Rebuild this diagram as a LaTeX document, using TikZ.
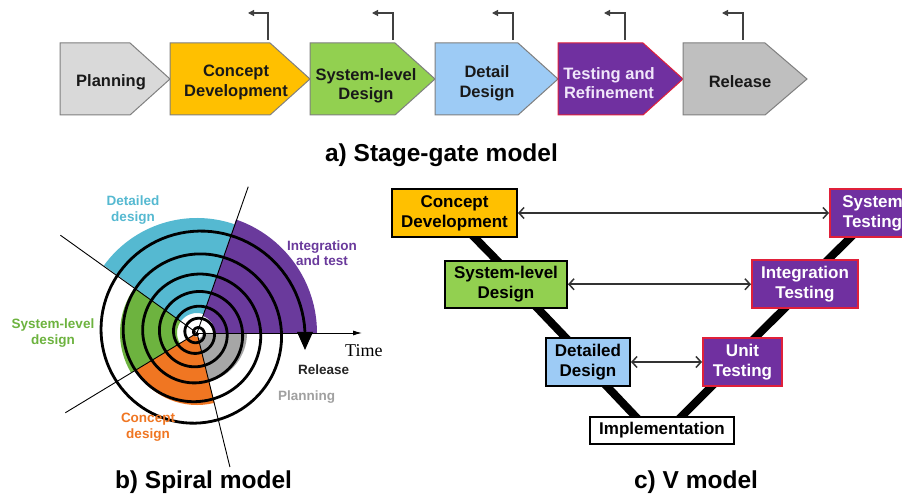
\documentclass[tikz,border=0pt]{standalone}
\usepackage{fontspec}
\setmainfont{Liberation Sans}
\newfontfamily\serifface{Liberation Serif}
\usetikzlibrary{arrows.meta,backgrounds,calc}
\definecolor{sgplan}{HTML}{D9D9D9}
\definecolor{sgborder}{HTML}{7F7F7F}
\definecolor{sgorange}{HTML}{FFC000}
\definecolor{sggreen}{HTML}{92D050}
\definecolor{sgblue}{HTML}{9DCBF5}
\definecolor{sgpurple}{HTML}{7030A0}
\definecolor{sgred}{HTML}{E0203A}
\definecolor{sgrelease}{HTML}{BFBFBF}
\definecolor{sglav}{HTML}{F0E6FA}
\definecolor{spgray}{HTML}{A6A6A6}
\definecolor{sporange}{HTML}{F07622}
\definecolor{spgreen}{HTML}{6DB33F}
\definecolor{spcyan}{HTML}{55B9D1}
\definecolor{sppurple}{HTML}{6A3A9C}
\definecolor{splabgray}{HTML}{A0A0A0}
\begin{document}
\begin{tikzpicture}[x=1pt,y=1pt,
  stagebox/.style={draw=sgborder,line width=1pt,line join=miter},
  stagetext/.style={font=\fontsize{16.5}{19.5}\selectfont\bfseries,align=center,text=black!90,inner sep=0pt},
  gate/.style={draw=black!75,line width=1.2pt,-{Triangle[length=6pt,width=6pt]}},
  title/.style={font=\fontsize{24.5}{28}\selectfont\bfseries,anchor=base,inner sep=0pt},
  radial/.style={draw=black,line width=0.9pt},
  spiralline/.style={draw=black,line width=2.8pt,line cap=round},
  splabel/.style={font=\fontsize{13.5}{15.5}\selectfont\bfseries,align=center,inner sep=0pt},
  vbox/.style={draw=black,line width=2pt,inner sep=0pt,align=center,font=\fontsize{17}{20}\selectfont\bfseries},
  vtest/.style={vbox,draw=sgred,fill=sgpurple,text=white},
  vline/.style={draw=black,line width=8pt,shorten <=-4pt,shorten >=-4pt},
  varrow/.style={draw=black!80,line width=1.5pt,{Straight Barb[length=5pt,width=11pt]}-{Straight Barb[length=5pt,width=11pt]}}
]
\useasboundingbox (0,0) rectangle (902,493);

% ---------------- a) Stage-gate model ----------------
\draw[stagebox,fill=sgplan]    (60,378)  -- (130,378) -- (170,414) -- (130,450) -- (60,450)  -- cycle;
\draw[stagebox,fill=sgorange]  (170,378) -- (270,378) -- (310,414) -- (270,450) -- (170,450) -- cycle;
\draw[stagebox,fill=sggreen]   (310,378) -- (395,378) -- (435,414) -- (395,450) -- (310,450) -- cycle;
\draw[stagebox,fill=sgblue]    (435,378) -- (518,378) -- (558,414) -- (518,450) -- (435,450) -- cycle;
\draw[stagebox,draw=sgred,fill=sgpurple] (558,378) -- (643,378) -- (683,414) -- (643,450) -- (558,450) -- cycle;
\draw[stagebox,fill=sgrelease] (683,378) -- (765,378) -- (807,414) -- (765,450) -- (683,450) -- cycle;

\node[stagetext] (splan) at (111,411) {Planning};
\node[stagetext] (scd)   at (236,410.5) {Concept\\Development};
\node[stagetext] (ssl)   at (366,407) {System-level\\Design};
\node[stagetext] (sdd)   at (487,409.5) {Detail\\Design};
\node[stagetext,text=sglav] (str) at (609,410) {Testing and\\Refinement};
\node[stagetext] (srel)  at (740,411) {Release};

\foreach \gx/\ge [count=\i] in {268/248,393/372,513/492,625/604,743/722}{
  \coordinate (gs\i) at (\gx,453);
  \coordinate (ge\i) at (\ge,480);
  \draw[gate] (gs\i) |- (ge\i);
}

\node[title] (ta) at (441.5,331) {a) Stage-gate model};

% ---------------- b) Spiral model ----------------
\begin{scope}[shift={(197,160)}]
  \coordinate (sc) at (0,0);
  \fill[spgray]   (284:6)  -- (284:50)  arc[start angle=284,end angle=360,radius=50]  -- (0:6)   arc[start angle=360,end angle=284,radius=6]  -- cycle;
  \fill[sporange] (211:4)  -- (211:72)  arc[start angle=211,end angle=284,radius=72]  -- (284:4) arc[start angle=284,end angle=211,radius=4]  -- cycle;
  \fill[spgreen]  (144:20) -- (144:77)  arc[start angle=144,end angle=211,radius=77]  -- (211:20) arc[start angle=211,end angle=144,radius=20] -- cycle;
  \fill[spcyan]   (71:20)  -- (71:115)  arc[start angle=71,end angle=144,radius=115]  -- (144:20) arc[start angle=144,end angle=71,radius=20]  -- cycle;
  \fill[sppurple] (0:18)   -- (0:120)   arc[start angle=0,end angle=71,radius=120]    -- (71:18)  arc[start angle=71,end angle=0,radius=18]    -- cycle;
  \coordinate (r1) at (70.7:155);
  \coordinate (r2) at (144.4:168);
  \coordinate (r3) at (211.2:154);
  \coordinate (r4) at (283.8:138);
  \coordinate (tend) at (165,0);
  \draw[radial] (sc) -- (r1);
  \draw[radial] (sc) -- (r2);
  \draw[radial] (sc) -- (r3);
  \draw[radial] (sc) -- (r4);
  \draw[radial,-{Latex[length=9pt,width=5pt]}] (sc) -- (tend);
  \draw[spiralline] plot[domain=0.15:7,samples=700,variable=\t] ({-360*\t}:{6*\t+1.347*\t*\t});
  \fill[black] (100,1) -- (116,1) -- (108,-17) -- cycle;
\end{scope}

\node[splabel,text=spcyan]   (lbdd) at (133,283) {Detailed\\design};
\node[splabel,text=sppurple] (lbit) at (322,240) {Integration\\and test};
\node[splabel,text=spgreen]  (lbsl) at (53,160)  {System-level\\design};
\node[splabel,text=sporange] (lbcd) at (148,66)  {Concept\\design};
\node[splabel,text=black!85,anchor=base west] (lbrel) at (298,119) {Release};
\node[splabel,text=splabgray,anchor=base west] (lbpl) at (278,93) {Planning};
\node[font=\serifface\fontsize{18}{20}\selectfont,anchor=base west,inner sep=0pt] (ltime) at (345,137) {Time};

\node[title] (tb) at (203.5,5) {b) Spiral model};

% ---------------- c) V model ----------------
\node[vbox,fill=sgorange,minimum width=125,minimum height=48] (vcd) at (454.5,280) {Concept\\Development};
\node[vtest,minimum width=85,minimum height=48] (vst) at (872.5,280) {System\\Testing};
\node[vbox,fill=sggreen,minimum width=122,minimum height=47] (vsl) at (506,208.75) {System-level\\Design};
\node[vtest,minimum width=106,minimum height=48] (vit) at (805,208.75) {Integration\\Testing};
\node[vbox,fill=sgblue,minimum width=84,minimum height=48] (vdd) at (588,131) {Detailed\\Design};
\node[vtest,minimum width=79,minimum height=48] (vut) at (742.5,131) {Unit\\Testing};
\node[vbox,fill=white,minimum width=144,minimum height=27] (vim) at (662,62.5) {Implementation};

\begin{scope}[on background layer]
  \fill[white] (0,0) rectangle (902,493);
  \draw[vline] ([xshift=20.5]vcd.south) -- ([xshift=-9.7]vsl.north);
  \draw[vline] ([xshift=32]vsl.south) -- ([xshift=-23]vdd.north);
  \draw[vline] ([xshift=19.5]vdd.south) -- ([xshift=-27]vim.north);
  \draw[vline] ([xshift=20]vim.north) -- ([xshift=-31.5]vut.south);
  \draw[vline] ([xshift=13.2]vut.north) -- ([xshift=-21.3]vit.south);
  \draw[vline] ([xshift=23.5]vit.north) -- ([xshift=-22.5]vst.south);
\end{scope}

\draw[varrow] (vcd.east) -- (vst.west);
\draw[varrow] (vsl.east) -- (vit.west);
\draw[varrow] (vdd.east) -- (vut.west);

\node[title] (tc) at (696,5) {c) V model};
\end{tikzpicture}
\end{document}
